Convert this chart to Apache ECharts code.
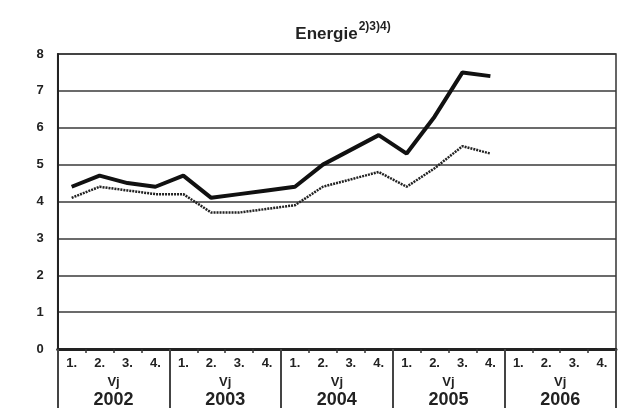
<!DOCTYPE html>
<html>
<head>
<meta charset="utf-8">
<script src="https://cdn.jsdelivr.net/npm/echarts@6/dist/echarts.min.js"></script>
<style>
html,body{margin:0;padding:0;background:#fff;}
#c{width:620px;height:416px;}
</style>
</head>
<body>
<div id="c"></div>
<script>
var quarterLabels = ["1.","2.","3.","4.","1.","2.","3.","4.","1.","2.","3.","4.","1.","2.","3.","4.","1.","2.","3.","4."];
var years = ["2002","2003","2004","2005","2006"];
var yTicks = [0,1,2,3,4,5,6,7,8];
var solidSeries = [4.4,4.7,4.5,4.4,4.7,4.1,4.2,4.3,4.4,5.0,5.4,5.8,5.3,6.3,7.5,7.4,null,null,null,null];
var dottedSeries = [4.1,4.4,4.3,4.2,4.2,3.7,3.7,3.8,3.9,4.4,4.6,4.8,4.4,4.9,5.5,5.3,null,null,null,null];

var FONT = '"Liberation Sans Narrow","Liberation Sans",sans-serif';
var chart = echarts.init(document.getElementById('c'));
chart.setOption({
  animation:false,
  backgroundColor:'#fff',
  title:{
    text:'{a|Energie}{b|2)3)4)}',
    left:338, textAlign:'center', top:16,
    textStyle:{
      rich:{
        a:{fontFamily:FONT,fontWeight:'bold',fontSize:17,color:'#222',verticalAlign:'bottom',lineHeight:22},
        b:{fontFamily:FONT,fontWeight:'bold',fontSize:12,color:'#222',verticalAlign:'top',lineHeight:22,padding:[0,0,8,1]}
      }
    }
  },
  grid:{left:57.7,right:4,top:54,bottom:67,show:true,borderColor:'#333',borderWidth:1.5},
  xAxis:[{
    type:'category',
    data:quarterLabels,
    boundaryGap:true,
    axisLine:{lineStyle:{color:'#222',width:3}},
    axisTick:{show:true,length:4,interval:0,lineStyle:{color:'#333',width:1.5}},
    axisLabel:{interval:0,margin:8,fontFamily:FONT,fontWeight:'bold',fontSize:13,color:'#222'}
  },{
    type:'category',
    data:years,
    position:'bottom',
    boundaryGap:true,
    axisLine:{show:false},
    axisTick:{show:true,length:59,interval:0,lineStyle:{color:'#444',width:2}},
    axisLabel:{
      interval:0,margin:25,
      formatter:function(v){return '{v|Vj}\n{y|'+v+'}';},
      rich:{
        v:{fontFamily:FONT,fontWeight:'bold',fontSize:13,color:'#222',lineHeight:16,align:'center'},
        y:{fontFamily:FONT,fontWeight:'bold',fontSize:18,color:'#222',lineHeight:20,align:'center'}
      }
    }
  }],
  yAxis:{
    type:'value',min:0,max:8,interval:1,
    axisLine:{show:true,lineStyle:{color:'#222',width:2}},
    axisTick:{show:false},
    axisLabel:{margin:14,fontFamily:FONT,fontWeight:'bold',fontSize:13,color:'#222',
      formatter:function(v){return yTicks.indexOf(v)>=0?String(v):'';}},
    splitLine:{show:true,lineStyle:{color:'#3a3a3a',width:1.6}}
  },
  series:[{
    type:'line',data:dottedSeries,xAxisIndex:0,symbol:'none',connectNulls:false,
    lineStyle:{color:'#222',width:2.5,type:[2,1]},z:3
  },{
    type:'line',data:solidSeries,xAxisIndex:0,symbol:'none',connectNulls:false,
    lineStyle:{color:'#111',width:4},z:4
  }]
});
</script>
</body>
</html>
